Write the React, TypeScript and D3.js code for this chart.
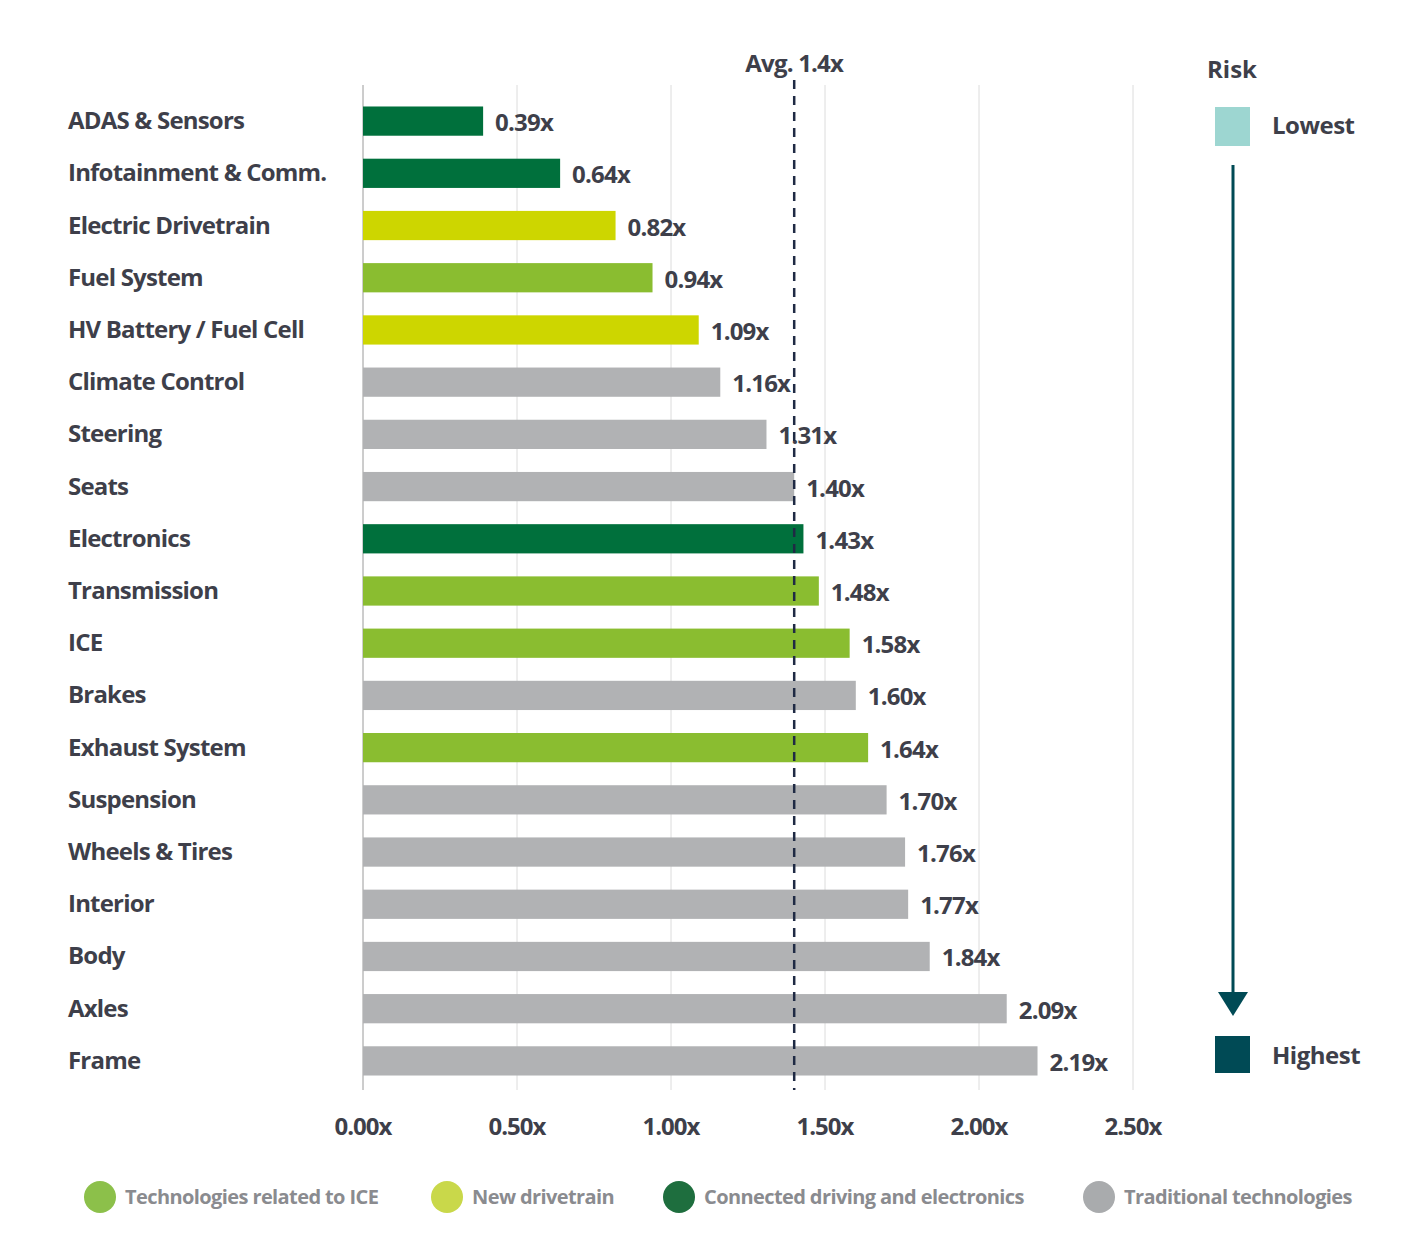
import React from 'react';
import * as d3 from 'd3';

const categories = ['ADAS & Sensors', 'Infotainment & Comm.', 'Electric Drivetrain', 'Fuel System', 'HV Battery / Fuel Cell', 'Climate Control', 'Steering', 'Seats', 'Electronics', 'Transmission', 'ICE', 'Brakes', 'Exhaust System', 'Suspension', 'Wheels & Tires', 'Interior', 'Body', 'Axles', 'Frame'];
const values = [0.39, 0.64, 0.82, 0.94, 1.09, 1.16, 1.31, 1.40, 1.43, 1.48, 1.58, 1.60, 1.64, 1.70, 1.76, 1.77, 1.84, 2.09, 2.19];
const groups = ['conn', 'conn', 'new', 'ice', 'new', 'trad', 'trad', 'trad', 'conn', 'ice', 'ice', 'trad', 'ice', 'trad', 'trad', 'trad', 'trad', 'trad', 'trad'];
const ticks = [0, 0.5, 1, 1.5, 2, 2.5];
const avg = 1.4;
const legendKeys = ['ice', 'new', 'conn', 'trad'];
const legendLabels = ['Technologies related to ICE', 'New drivetrain', 'Connected driving and electronics', 'Traditional technologies'];

const colors: Record<string, string> = { ice: '#8abd30', new: '#cdd600', conn: '#00703c', trad: '#b1b2b4' };
const legendColors: Record<string, string> = { ice: '#8cc04a', new: '#c9d84a', conn: '#1e6e3e', trad: '#a9abad' };
const textColor = '#3e3f4a';
const font = '"Open Sans", sans-serif';

export default function App() {
  const x = d3.scaleLinear().domain([0, 2.5]).range([363, 1133]);
  const y = d3.scaleBand().domain(categories).range([95, 1087]).paddingInner(0.44).paddingOuter(0.22);
  const bh = y.bandwidth();
  const legendX = [100, 447, 679, 1099];
  return (
    <svg width={1404} height={1249} style={{ position: 'absolute', left: 0, top: 0, background: '#fff' }} fontFamily={font} fontWeight={700}>
      {ticks.map(t => (
        <g key={t}>
          <line x1={x(t)} x2={x(t)} y1={85} y2={1090} stroke={t === 0 ? '#9a9a9a' : '#dcdcdc'} strokeWidth={1} />
          <text x={x(t)} y={1135} textAnchor="middle" fontSize={24} fill={textColor} letterSpacing={-1}>{t.toFixed(2)}x</text>
        </g>
      ))}
      {categories.map((c, i) => {
        const yy = y(c)!;
        return (
          <g key={c}>
            <rect x={x(0)} y={yy} width={x(values[i]) - x(0)} height={bh} fill={colors[groups[i]]} />
            <text x={68} y={yy + bh / 2 + 8} fontSize={24} fill={textColor} letterSpacing={-0.8}>{c}</text>
            <text x={x(values[i]) + 12} y={yy + bh / 2 + 10} fontSize={24} fill={textColor} letterSpacing={-0.8}>{values[i].toFixed(2)}x</text>
          </g>
        );
      })}
      <line x1={x(avg)} x2={x(avg)} y1={80} y2={1090} stroke="#1f2a44" strokeWidth={2.5} strokeDasharray="9,7" />
      <text x={x(avg)} y={72} textAnchor="middle" fontSize={24} fill={textColor} letterSpacing={-0.8}>Avg. 1.4x</text>
      <text x={1232} y={78} textAnchor="middle" fontSize={24} fill={textColor}>Risk</text>
      <rect x={1215} y={107} width={35} height={39} fill="#9dd6d1" />
      <text x={1272} y={134} fontSize={24} fill={textColor} letterSpacing={-0.5}>Lowest</text>
      <line x1={1233} x2={1233} y1={165} y2={995} stroke="#004a55" strokeWidth={3} />
      <path d="M1218,992 L1248,992 L1233,1016 Z" fill="#004a55" />
      <rect x={1215} y={1036} width={35} height={37} fill="#004a55" />
      <text x={1272} y={1064} fontSize={24} fill={textColor} letterSpacing={-0.5}>Highest</text>
      {legendKeys.map((k, i) => (
        <g key={k}>
          <circle cx={legendX[i]} cy={1197} r={16} fill={legendColors[k]} />
          <text x={legendX[i] + 25} y={1204} fontSize={20} fill="#8a8b8f" letterSpacing={-0.6}>{legendLabels[i]}</text>
        </g>
      ))}
    </svg>
  );
}
